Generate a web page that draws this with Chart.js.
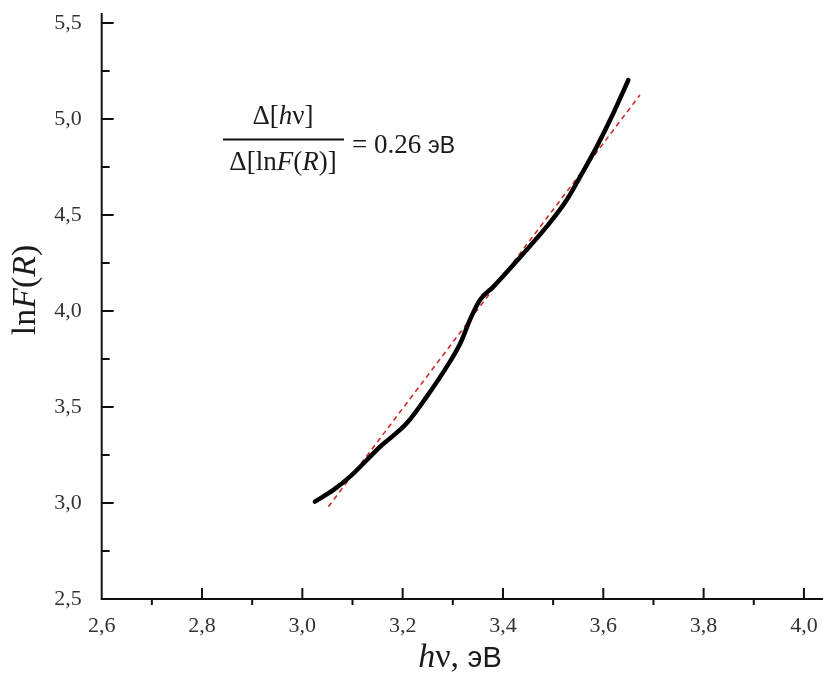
<!DOCTYPE html>
<html>
<head>
<meta charset="utf-8">
<script src="https://cdn.jsdelivr.net/npm/chart.js@4/dist/chart.umd.min.js"></script>
<style>
  html, body { margin: 0; padding: 0; background: #fff; overflow: hidden; }
  #wrap { width: 823px; height: 676px; position: relative; }
</style>
</head>
<body>
<div id="wrap"><canvas id="c" width="823" height="676"></canvas></div>
<script>
// ---- data ----
const curveX = [3.025, 3.062, 3.095, 3.155, 3.208, 3.248, 3.288, 3.315, 3.334, 3.354, 3.381, 3.435, 3.487, 3.527, 3.554, 3.587, 3.620, 3.650];
const curveY = [3.007, 3.068, 3.137, 3.293, 3.415, 3.554, 3.710, 3.832, 3.953, 4.057, 4.127, 4.283, 4.439, 4.578, 4.700, 4.856, 5.030, 5.203];
const fitX = [3.052, 3.673];
const fitY = [2.981, 5.125];
const xTicks = [2.6, 2.8, 3.0, 3.2, 3.4, 3.6, 3.8, 4.0];
const xMinor = [2.7, 2.9, 3.1, 3.3, 3.5, 3.7, 3.9];
const yTicks = [2.5, 3.0, 3.5, 4.0, 4.5, 5.0, 5.5];
const yMinor = [2.75, 3.25, 3.75, 4.25, 4.75, 5.25];
const slopeText = '0.26';

const fmt = v => Number(v).toFixed(1).replace('.', ',');
const SERIF = '"Liberation Serif", "Times New Roman", serif';
const SANS = '"Liberation Sans", Arial, sans-serif';

function drawRich(ctx, parts, x, y, align) {
  let total = 0;
  const widths = parts.map(p => { ctx.font = p[1]; const w = ctx.measureText(p[0]).width; total += w; return w; });
  let cx = align === 'center' ? x - total / 2 : x;
  parts.forEach((p, i) => { ctx.font = p[1]; ctx.fillText(p[0], cx, y); cx += widths[i]; });
  return total;
}

function noPad(s) { s.paddingLeft = 0; s.paddingRight = 0; s.paddingTop = 0; s.paddingBottom = 0; }

const decor = {
  id: 'decor',
  afterDraw(chart) {
    const ctx = chart.ctx;
    const xs = chart.scales.x, ys = chart.scales.y;
    const ca = chart.chartArea;
    ctx.save();
    ctx.strokeStyle = '#111';
    ctx.fillStyle = '#111';
    ctx.lineWidth = 2;
    ctx.beginPath();
    ctx.moveTo(ca.left, ca.top);
    ctx.lineTo(ca.left, ca.bottom);
    ctx.lineTo(ca.right, ca.bottom);
    ctx.stroke();
    ctx.beginPath();
    xTicks.forEach(v => { if (v === xTicks[0]) return; const p = xs.getPixelForValue(v); ctx.moveTo(p, ca.bottom); ctx.lineTo(p, ca.bottom - 11); });
    xMinor.forEach(v => { const p = xs.getPixelForValue(v); ctx.moveTo(p, ca.bottom); ctx.lineTo(p, ca.bottom + 6); });
    yTicks.forEach(v => { if (v === yTicks[0]) return; const p = ys.getPixelForValue(v); ctx.moveTo(ca.left, p); ctx.lineTo(ca.left + 12, p); });
    yMinor.forEach(v => { const p = ys.getPixelForValue(v); ctx.moveTo(ca.left, p); ctx.lineTo(ca.left + 8, p); });
    ctx.stroke();

    ctx.fillStyle = '#1a1a1a';
    ctx.textBaseline = 'alphabetic';
    drawRich(ctx, [['h', 'italic 34px ' + SERIF], ['ν, ', '34px ' + SERIF], ['эВ', '29px ' + SANS]], 460, 667, 'center');

    ctx.save();
    ctx.translate(35, 290);
    ctx.rotate(-Math.PI / 2);
    drawRich(ctx, [['ln', '34px ' + SERIF], ['F', 'italic 34px ' + SERIF], ['(', '34px ' + SERIF], ['R', 'italic 34px ' + SERIF], [')', '34px ' + SERIF]], 0, 0, 'center');
    ctx.restore();

    const f = '27px ' + SERIF, fi = 'italic 27px ' + SERIF;
    drawRich(ctx, [['Δ[', f], ['h', fi], ['ν]', f]], 283, 124, 'center');
    drawRich(ctx, [['Δ[ln', f], ['F', fi], ['(', f], ['R', fi], [')]', f]], 283, 170, 'center');
    ctx.lineWidth = 2;
    ctx.beginPath();
    ctx.moveTo(223, 139.5);
    ctx.lineTo(344, 139.5);
    ctx.stroke();
    drawRich(ctx, [['= ' + slopeText + ' ', '27px ' + SERIF], ['эВ', '23px ' + SANS]], 352, 153, 'left');
    ctx.restore();
  }
};

new Chart(document.getElementById('c'), {
  type: 'scatter',
  data: {
    datasets: [
      {
        data: curveX.map((x, i) => ({ x, y: curveY[i] })),
        showLine: true,
        borderColor: '#000',
        borderWidth: 4.5,
        pointRadius: 0,
        cubicInterpolationMode: 'monotone',
        borderCapStyle: 'round',
        borderJoinStyle: 'round'
      },
      {
        data: fitX.map((x, i) => ({ x, y: fitY[i] })),
        showLine: true,
        borderColor: '#cc2b2b',
        borderWidth: 1.6,
        borderDash: [5, 4],
        pointRadius: 0
      }
    ]
  },
  options: {
    responsive: false,
    animation: false,
    layout: { padding: { top: 13, right: 0, left: 0, bottom: 0 } },
    plugins: { legend: { display: false }, tooltip: { enabled: false } },
    scales: {
      x: {
        type: 'linear',
        min: 2.6,
        max: 4.038,
        grid: { display: false },
        border: { display: false },
        afterBuildTicks: s => { s.ticks = xTicks.map(v => ({ value: v })); },
        afterFit: s => { s.height = 77; noPad(s); },
        ticks: { callback: v => fmt(v), font: { family: SERIF, size: 22 }, color: '#333', padding: 6, maxRotation: 0, autoSkip: false }
      },
      y: {
        type: 'linear',
        min: 2.5,
        max: 5.552,
        grid: { display: false },
        border: { display: false },
        afterBuildTicks: s => { s.ticks = yTicks.map(v => ({ value: v })); },
        afterFit: s => { s.width = 101.7; noPad(s); },
        ticks: { callback: v => fmt(v), font: { family: SERIF, size: 22 }, color: '#333', padding: 12, autoSkip: false }
      }
    }
  },
  plugins: [decor]
});
</script>
</body>
</html>
